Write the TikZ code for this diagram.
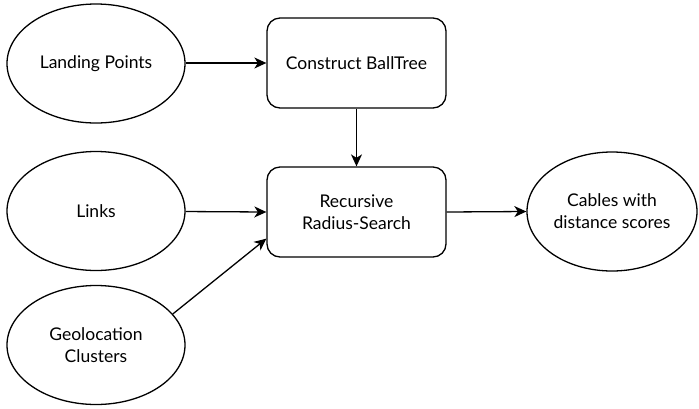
\documentclass[tikz,border=0pt]{standalone}
\usepackage{fontspec}
\setmainfont{Lato}
\usetikzlibrary{shapes.geometric,arrows.meta,calc}
\begin{document}
\begin{tikzpicture}[x=1pt,y=-1pt,
  every node/.style={font=\fontsize{17.5}{22}\selectfont, align=center, line width=1.3pt},
  oval/.style={draw, ellipse, minimum width=178pt, minimum height=119pt, inner sep=0pt},
  procbox/.style={draw, rounded corners=13pt, minimum width=179pt, minimum height=90pt, inner sep=0pt},
  arr/.style={line width=1.3pt, -{Stealth[length=12pt,width=11pt,inset=3.5pt]}}]
\useasboundingbox (0,0) rectangle (699,408);
\node[oval] (lp) at (96,63.5) {Landing Points};
\node[oval] (ln) at (96,211) {Links};
\node[oval] (gc) at (96,345) {Geolocation\\Clusters};
\node[procbox] (bt) at (356.5,63) {Construct BallTree};
\node[procbox] (rs) at (356.5,212) {Recursive\\Radius-Search};
\node[oval, minimum width=170pt] (cb) at (612,211.5) {Cables with\\distance scores};
\coordinate (rsin) at ($(rs.south west)+(0,-19)$);
\draw[arr] (lp.east |- bt.west) -- (bt.west);
\draw[arr] (bt.south) -- (rs.north);
\draw[arr] (ln) -- (rs.west);
\draw[arr] (gc.22) -- (rsin);
\draw[arr] (rs.east) -- (cb.west);
\end{tikzpicture}
\end{document}
